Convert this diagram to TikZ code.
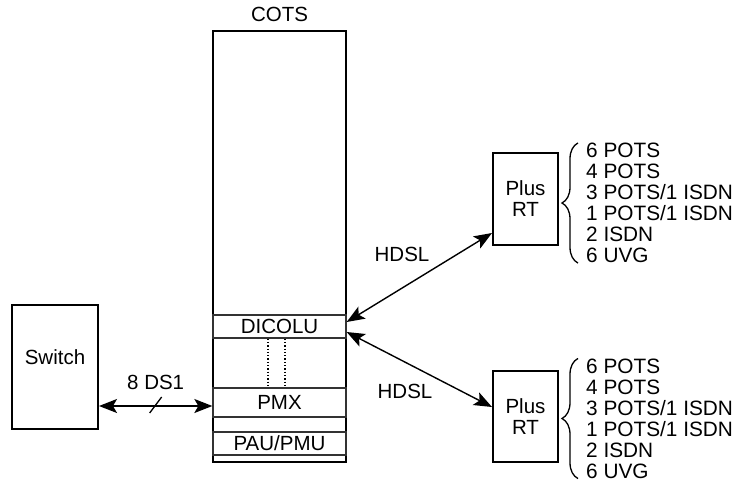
\documentclass[tikz,border=0pt]{standalone}
\usepackage{fontspec}
\setmainfont{Liberation Sans}
\usetikzlibrary{arrows.meta,positioning,decorations.pathreplacing}
\tikzset{>={Stealth[length=18pt,width=14pt,inset=4pt]}}

\begin{document}
\begin{tikzpicture}[x=1pt, y=-1pt,
  unitbox/.style={rectangle, draw=black, line width=2pt, inner sep=0pt,
    align=center, font=\fontsize{20.5}{21}\selectfont},
  rowbox/.style={rectangle, draw=black!80, line width=1.3pt, inner sep=0pt,
    minimum width=133pt, font=\fontsize{20.5}{21}\selectfont},
  lbl/.style={inner sep=0pt, font=\fontsize{20.5}{21}\selectfont},
  listlbl/.style={inner sep=0pt, align=left, font=\fontsize{20.8}{21}\selectfont},
  linkarrow/.style={<->, line width=1.4pt},
  dotline/.style={dotted, line width=1.3pt},
  bracestyle/.style={decorate, decoration={brace, amplitude=16pt}, line width=1.3pt}
]
\useasboundingbox (0,0) rectangle (742,480);

% ---------- COTS shelf ----------
\node[unitbox, minimum width=133pt, minimum height=431pt] (cots) at (279.5,246) {};
\node[lbl, above=8pt of cots] (cotslbl) {COTS};

\node[rowbox, minimum height=23pt] (dicolu) at (279.5,326.5) {DICOLU};
\node[rowbox, minimum height=29pt] (pmx) at (279.5,402.5) {PMX};
\node[rowbox, minimum height=23pt] (paupmu) at (279.5,443.5) {PAU/PMU};

\draw[dotline] ([xshift=-11.5pt]dicolu.south) -- ([xshift=-11.5pt]dicolu.south |- pmx.north);
\draw[dotline] ([xshift=5.5pt]dicolu.south) -- ([xshift=5.5pt]dicolu.south |- pmx.north);

% ---------- Switch ----------
\node[unitbox, minimum width=86pt, minimum height=124pt] (switch) at (55,367) {};
\node[lbl] (switchlbl) at (55,357) {Switch};

% ---------- Remote terminals ----------
\node[unitbox, minimum width=65pt, minimum height=92pt] (rtone) at (525.5,199) {Plus\\RT};
\node[unitbox, minimum width=65pt, minimum height=91pt] (rttwo) at (525.5,416.5) {Plus\\RT};

\node[listlbl, anchor=west] (svcone) at (586,203)
  {6 POTS\\4 POTS\\3 POTS/1 ISDN\\1 POTS/1 ISDN\\2 ISDN\\6 UVG};
\node[listlbl, anchor=west] (svctwo) at (586,418.5)
  {6 POTS\\4 POTS\\3 POTS/1 ISDN\\1 POTS/1 ISDN\\2 ISDN\\6 UVG};

\draw[bracestyle] ([xshift=-8pt]svcone.south west) -- ([xshift=-8pt]svcone.north west);
\draw[bracestyle] ([xshift=-8pt]svctwo.south west) -- ([xshift=-8pt]svctwo.north west);

% ---------- Links ----------
\draw[linkarrow] ([yshift=-39pt]switch.east) -- ([yshift=-3.5pt]pmx.west)
  coordinate[pos=0.5] (dsmid)
  node[lbl, pos=0.5, above=15.6pt] {8 DS1};
\draw[line width=1.3pt] (dsmid) ++(-6,7) -- ++(12,-16);

\draw[linkarrow] ([yshift=4.5pt]dicolu.east) -- ([yshift=13pt]rtone.south west);
\draw[linkarrow] ([yshift=-5.5pt]dicolu.east) -- ([yshift=-37pt]rttwo.north west);

\node[lbl] (hdslone) at (402,254) {HDSL};
\node[lbl] (hdsltwo) at (405,391) {HDSL};

\end{tikzpicture}
\end{document}
